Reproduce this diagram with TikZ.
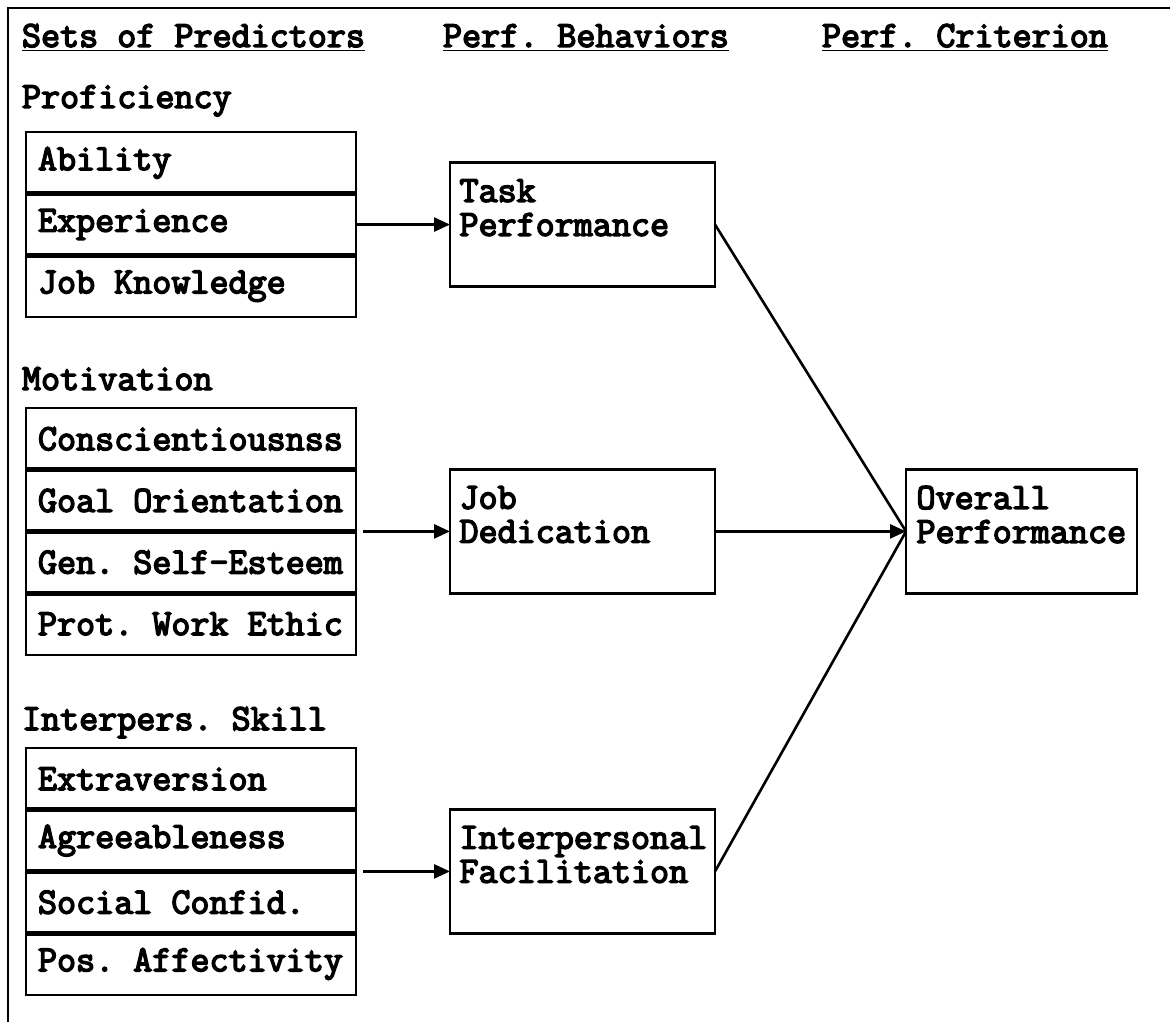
\documentclass[tikz,border=0pt]{standalone}
\usepackage{fontspec}
\setmonofont[FakeBold=4,WordSpace={1,0,0}]{Latin Modern Mono}
\usepackage{tikz}
\usetikzlibrary{positioning,arrows.meta}
\frenchspacing
\tikzset{every node/.style={font=\ttfamily\fontsize{18.5}{17}\selectfont,inner sep=0pt,outer sep=0pt,
    execute at begin node={\spaceskip=0pt\xspaceskip=0pt}},
  head/.style={anchor=base west},
  cell/.style={draw,line width=1.3pt,minimum width=165pt,minimum height=30.85pt,text width=153pt,inner xsep=6pt,align=left},
  behav/.style={draw,line width=1.3pt,minimum width=132.5pt,minimum height=62pt,text width=123pt,inner xsep=4.75pt,align=left},
  crit/.style={draw,line width=1.3pt,minimum width=115.5pt,minimum height=62pt,text width=105pt,inner xsep=5.25pt,align=left},
  divider/.style={line width=2.6pt},
  frame/.style={line width=1.4pt},
  line/.style={line width=1.3pt},
  link/.style={line width=1.3pt,-{Triangle[length=8pt,width=7pt]}}}
\begin{document}
\begin{tikzpicture}[x=0.5pt,y=-0.5pt]
    \useasboundingbox (0,0) rectangle (1170,1022);
    \draw[frame] (8,1022) -- (8,8) -- (1170,8);

    \node[head] (hpred) at (22,47) {\underline{Sets of Predictors}};
    \node[head] (hbeh) at (443,47) {\underline{Perf. Behaviors}};
    \node[head] (hcrit) at (822,47) {\underline{Perf. Criterion}};

    \node[head] (prof) at (22,108) {Proficiency};
    \node[cell,anchor=north west] (abil) at (26,132) {Ability};
    \node[cell,below=0pt of abil] (exper) {Experience};
    \node[cell,below=0pt of exper] (jobk) {Job Knowledge};

    \node[head] (motiv) at (22,390) {Motivation};
    \node[cell,anchor=north west] (consc) at (26,408) {Conscientiousnss};
    \node[cell,below=0pt of consc] (goal) {Goal Orientation};
    \node[cell,below=0pt of goal] (self) {Gen. Self-Esteem};
    \node[cell,below=0pt of self] (ethic) {Prot. Work Ethic};

    \node[head] (inter) at (22,730) {Interpers. Skill};
    \node[cell,anchor=north west] (extra) at (26,748) {Extraversion};
    \node[cell,below=0pt of extra] (agree) {Agreeableness};
    \node[cell,below=0pt of agree] (social) {Social Confid.};
    \node[cell,below=0pt of social] (posaff) {Pos. Affectivity};

    \foreach \c in {abil,exper,consc,goal,self,extra,agree,social}
        \draw[divider] (\c.south west) -- (\c.south east);

    \node[behav,right=47pt of exper] (task) {Task\\Performance\\\mbox{}};
    \node[behav,anchor=west] (job) at (task.west |- goal.south) {Job\\Dedication\\\mbox{}};
    \node[behav,anchor=west] (intp) at (task.west |- agree.south) {Interpersonal\\Facilitation\\\mbox{}};
    \node[crit,right=95.5pt of job] (overall) {Overall\\Performance\\\mbox{}};

    \draw[link] (exper) -- (task);
    \draw[link,shorten <=3.5pt] (goal.south east) -- (job);
    \draw[link,shorten <=3.5pt] (agree.south east) -- (intp);
    \draw[line] (task.east) -- (overall.west);
    \draw[line] (intp.east) -- (overall.west);
    \draw[link] (job) -- (overall);
\end{tikzpicture}
\end{document}
